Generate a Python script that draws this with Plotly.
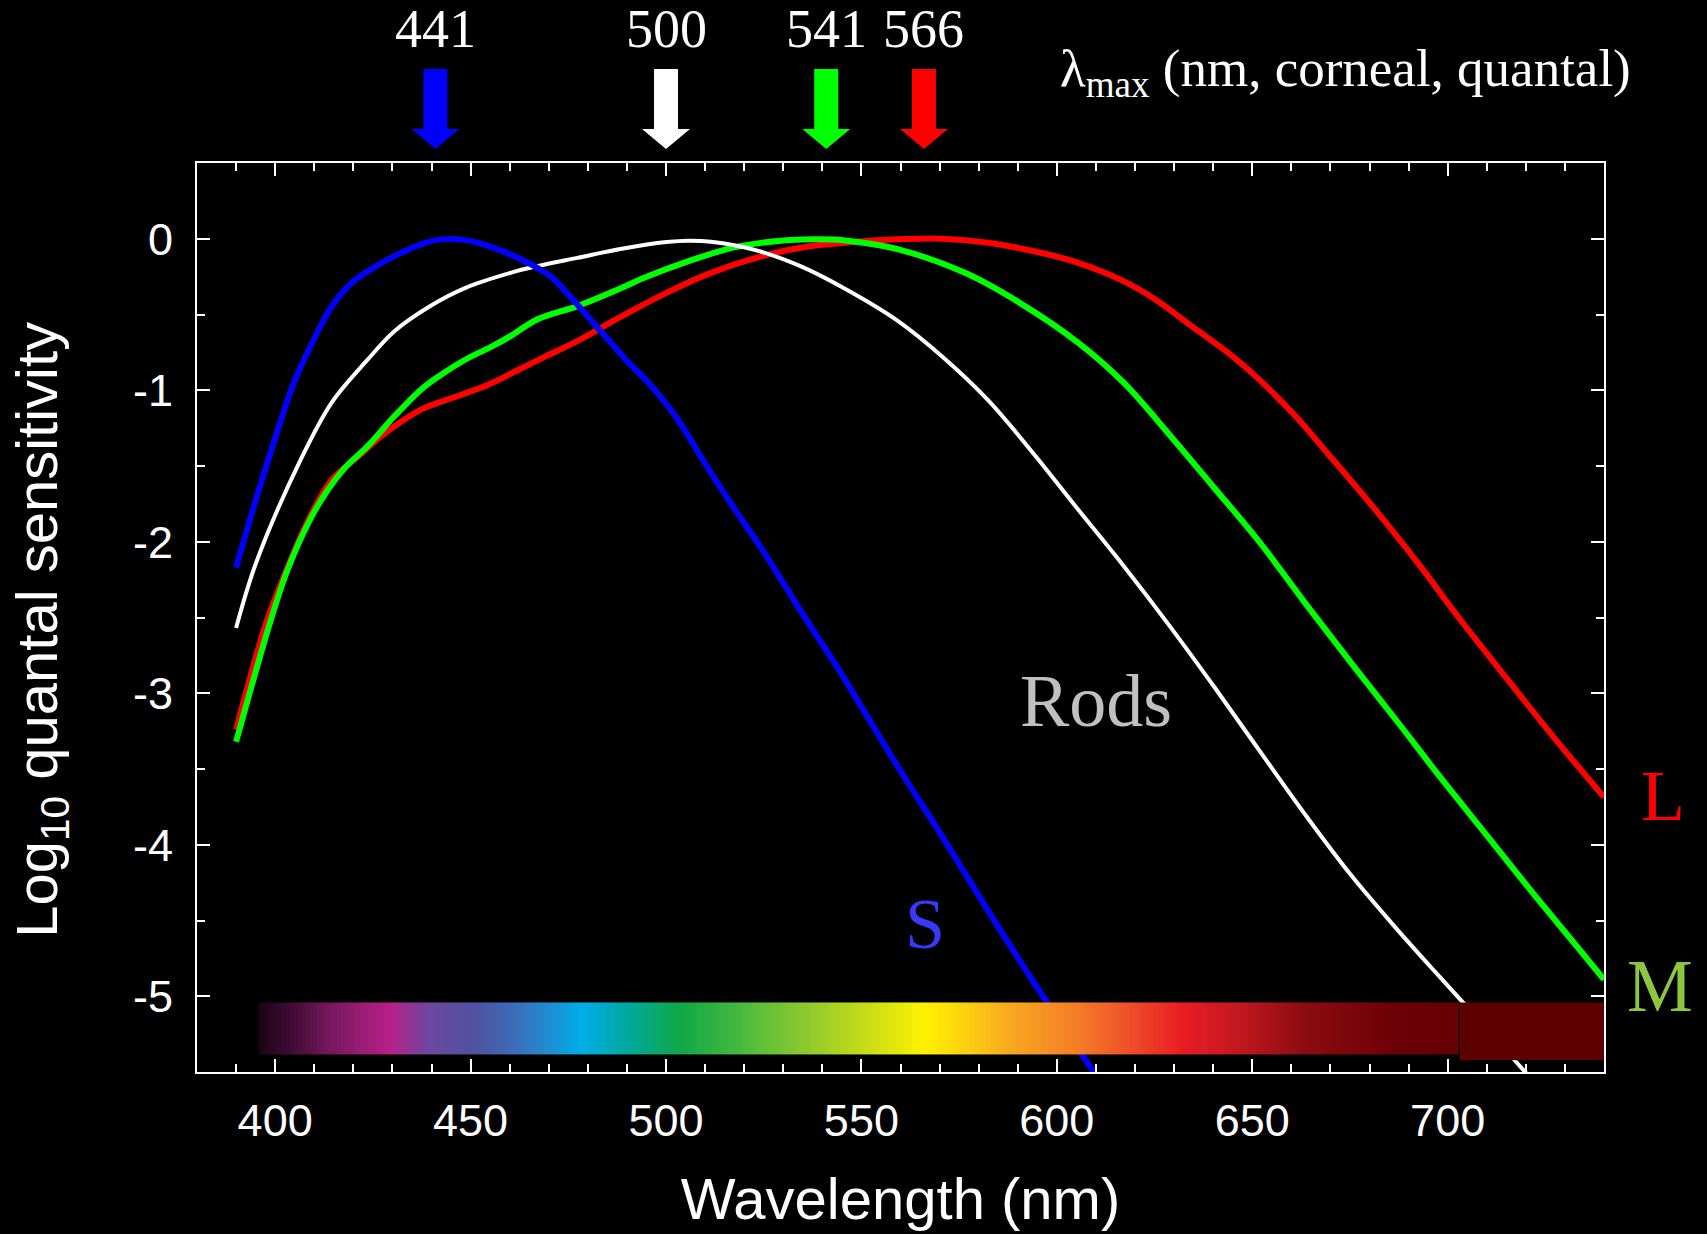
import numpy as np
import plotly.graph_objects as go

# ---------------- data ----------------
S_nm = [390, 395.1, 400.2, 404.8, 409.9, 414.5, 419.6, 425.9, 430.5, 437.3, 442.5, 448.7,
        453.3, 460.2, 464.7, 470.4, 476.1, 483.0, 489.8, 495.5, 502.4, 510.4, 517.2, 525.2,
        533.2, 537.8, 544.6, 559.2, 570.8, 582.4, 593.9, 610.1]
S_val = [-2.17, -1.72, -1.30, -0.95, -0.665, -0.445, -0.29, -0.18, -0.115, -0.037, -0.004, -0.009,
         -0.037, -0.104, -0.159, -0.247, -0.40, -0.60, -0.80, -0.95, -1.17, -1.50, -1.77, -2.075,
         -2.405, -2.59, -2.86, -3.48, -3.95, -4.435, -4.90, -5.525]

Rod_nm = [390, 395.1, 406.5, 414.5, 423.6, 430.5, 439.6, 448.7, 460.2, 467.0, 477.3, 488.7,
          500.1, 505.8, 511.5, 522.9, 534.4, 545.8, 559.2, 570.8, 582.4, 593.9, 605.5, 617.1,
          628.7, 640.3, 651.8, 663.4, 675.0, 686.6, 698.1, 703.9, 720.7]
Rod_val = [-2.57, -2.14, -1.46, -1.08, -0.80, -0.61, -0.445, -0.324, -0.225, -0.181, -0.126, -0.066,
           -0.022, -0.013, -0.020, -0.075, -0.181, -0.33, -0.54, -0.78, -1.065, -1.414, -1.789, -2.16,
           -2.55, -2.959, -3.377, -3.796, -4.192, -4.545, -4.876, -5.04, -5.525]

M_nm = [390, 398.5, 403.1, 408.8, 413.4, 417.9, 423.6, 430.5, 437.3, 441.9, 448.7, 455.6,
        460.2, 467.0, 477.3, 488.7, 494.4, 505.8, 517.2, 528.7, 537.8, 545.8, 559.2, 576.5,
        590.5, 605.5, 617.1, 628.7, 640.3, 651.8, 663.4, 675.0, 686.6, 698.1, 709.7, 721.3,
        732.9, 740.0]
M_val = [-3.32, -2.55, -2.19, -1.86, -1.66, -1.51, -1.37, -1.172, -0.996, -0.907, -0.797, -0.709,
         -0.643, -0.533, -0.445, -0.324, -0.258, -0.148, -0.059, -0.015, -0.004, -0.011, -0.068, -0.225,
         -0.423, -0.687, -0.95, -1.29, -1.645, -2.00, -2.40, -2.79, -3.17, -3.554, -3.928, -4.303,
         -4.666, -4.89]

L_nm = [390, 397.9, 403.0, 408.8, 414.5, 421.3, 428.2, 437.3, 446.5, 454.5, 462.4, 469.3,
        477.3, 488.7, 500.1, 511.5, 523.0, 534.4, 545.8, 559.2, 570.8, 582.4, 593.9, 605.5,
        617.1, 625.2, 634.5, 644.9, 651.8, 661.1, 669.2, 680.8, 692.4, 703.4, 715.5, 727.1, 740.0]
L_val = [-3.24, -2.52, -2.18, -1.84, -1.59, -1.436, -1.282, -1.128, -1.04, -0.963, -0.863, -0.775,
         -0.676, -0.511, -0.357, -0.225, -0.126, -0.059, -0.026, -0.004, 0.0, -0.026, -0.081, -0.159,
         -0.280, -0.401, -0.577, -0.775, -0.930, -1.172, -1.414, -1.767, -2.141, -2.52, -2.915, -3.289,
         -3.686]

peak_nm = [441, 500, 541, 566]
peak_labels = ["441", "500", "541", "566"]
peak_colors = ["#0000ff", "#ffffff", "#00ff00", "#ff0000"]

spectrum_nm = [395.8, 403, 414.4, 429.3, 439.5, 451, 462.3, 478.4, 489.8, 503.5, 517.2, 534.3,
               551.4, 566.1, 576.6, 588.1, 605.5, 619.4, 632.1, 647.2, 663.4, 686.6, 703.1]
spectrum_colors = ["#1a0515", "#3a0a30", "#781860", "#b82088", "#6c48a0", "#5050a0", "#3a70bc",
                   "#00aee8", "#00a8a0", "#10a848", "#40b840", "#88c830", "#c8dc18", "#fff200",
                   "#fcd010", "#f8a820", "#f47c28", "#ee4c28", "#ea1c24", "#c0181e", "#8c0c10",
                   "#6c0006", "#640004"]

x_ticks = [400, 450, 500, 550, 600, 650, 700]
y_ticks = [0, -1, -2, -3, -4, -5]
y_ticktext = ["0", "-1", "-2", "-3", "-4", "-5"]

# ---------------- figure ----------------
SANS = "Liberation Sans, Arial, sans-serif"
SERIF = "Liberation Serif, Times New Roman, serif"

fig = go.Figure()

curves = [
    (L_nm, L_val, "#ff0000", 6),
    (M_nm, M_val, "#00ff00", 6),
    (Rod_nm, Rod_val, "#ffffff", 4),
    (S_nm, S_val, "#0000ff", 6),
]
for xs, ys, col, w in curves:
    fig.add_trace(go.Scatter(x=xs, y=ys, mode="lines",
                             line=dict(color=col, width=w, shape="spline", smoothing=1.0),
                             hoverinfo="skip", showlegend=False))

# spectrum strip (on an overlay subplot so it sits above the curves)
lo, hi = spectrum_nm[0], spectrum_nm[-1]
edges = np.arange(lo, hi + 0.5, 1.0)
centers = (edges[:-1] + edges[1:]) / 2
cscale = [[(n - lo) / (hi - lo), c] for n, c in zip(spectrum_nm, spectrum_colors)]
fig.add_trace(go.Heatmap(x=edges, y=[-5.382, -5.041], z=[centers], zmin=lo, zmax=hi,
                         colorscale=cscale, showscale=False, hoverinfo="skip",
                         xaxis="x2", yaxis="y2"))

axis_common = dict(showgrid=False, zeroline=False, showline=True, linecolor="white", linewidth=2,
                   ticks="inside", tickcolor="white", tickwidth=2, ticklen=13, mirror="ticks",
                   automargin=False,
                   tickfont=dict(family=SANS, size=45, color="white"))

fig.update_layout(
    width=1707, height=1234,
    paper_bgcolor="black", plot_bgcolor="black",
    margin=dict(l=197, r=103, t=163, b=162),
    showlegend=False,
    xaxis=dict(range=[380, 740], tickmode="array", tickvals=x_ticks,
               minor=dict(ticks="inside", ticklen=8, tickwidth=2, tickcolor="white", dtick=10, tick0=0),
               ticklabelstandoff=8,
               title=dict(text="Wavelength (nm)", font=dict(family=SANS, size=58, color="white"), standoff=33),
               **axis_common),
    yaxis=dict(range=[-5.5, 0.5], tickmode="array", tickvals=y_ticks, ticktext=y_ticktext,
               minor=dict(ticks="inside", ticklen=8, tickwidth=2, tickcolor="white", dtick=0.5, tick0=0),
               ticklabelstandoff=13,
               **axis_common),
    xaxis2=dict(range=[380, 740], overlaying="x", visible=False, anchor="y2", automargin=False),
    yaxis2=dict(range=[-5.5, 0.5], overlaying="y", visible=False, anchor="x2", automargin=False),
)

# dark box at the long-wavelength end of the strip
fig.add_shape(type="rect", xref="x", yref="y", x0=703.1, x1=740, y0=-5.422, y1=-5.041,
              fillcolor="#5c0000", line=dict(width=0), layer="above")

# lambda-max arrows
arrow_path = "M -12,94 L 12,94 L 12,34 L 24,34 L 0,14 L -24,34 L -12,34 Z"
for nm, col in zip(peak_nm, peak_colors):
    fig.add_shape(type="path", xref="x", yref="paper", xsizemode="pixel", ysizemode="pixel",
                  xanchor=nm, yanchor=1, path=arrow_path, fillcolor=col,
                  line=dict(width=0), layer="above")

annotations = []
for nm, lab in zip(peak_nm, peak_labels):
    annotations.append(dict(x=nm, xref="x", y=1.147, yref="paper", text=lab, showarrow=False,
                            font=dict(family=SERIF, size=54, color="white"),
                            xanchor="center", yanchor="middle"))
annotations += [
    dict(x=-0.1111, xref="paper", y=0.4862, yref="paper", textangle=-90,
         text="Log<sub>10</sub> quantal sensitivity", showarrow=False,
         font=dict(family=SANS, size=58, color="white"), xanchor="center", yanchor="middle"),
    dict(x=1.0206, xref="paper", y=1.100, yref="paper",
         text="λ<sub>max</sub> (nm, corneal, quantal)", showarrow=False,
         font=dict(family=SERIF, size=53, color="white"), xanchor="right", yanchor="middle"),
    dict(x=610.1, xref="x", y=-3.05, yref="y", text="Rods", showarrow=False,
         font=dict(family=SERIF, size=74, color="#c0c0c0"), xanchor="center", yanchor="middle"),
    dict(x=566.3, xref="x", y=-4.52, yref="y", text="S", showarrow=False,
         font=dict(family=SERIF, size=72, color="#3838f8"), xanchor="center", yanchor="middle"),
    dict(x=1.0419, xref="paper", y=-3.675, yref="y", text="L", showarrow=False,
         font=dict(family=SERIF, size=72, color="#ff0000"), xanchor="center", yanchor="middle"),
    dict(x=1.0398, xref="paper", y=-4.93, yref="y", text="M", showarrow=False,
         font=dict(family=SERIF, size=74, color="#8dc63f"), xanchor="center", yanchor="middle"),
]
fig.update_layout(annotations=annotations)

fig.write_html("out.html", config={"displayModeBar": False},
               post_script="document.body.style.margin='0';document.body.style.background='black';")
